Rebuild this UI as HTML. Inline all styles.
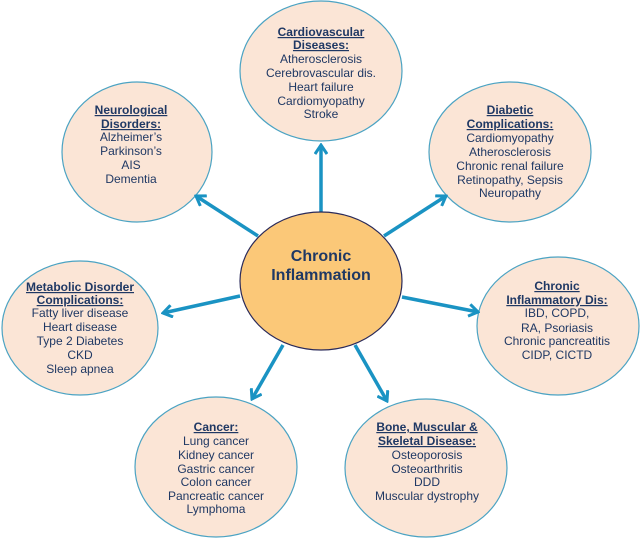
<!DOCTYPE html>
<html><head><meta charset="utf-8"><style>
html,body{margin:0;padding:0;background:#fff;}
svg{display:block;}
text{font-family:"Liberation Sans",Arial,sans-serif;font-size:12px;fill:#1f3864;text-anchor:middle;}
.t{text-decoration:underline;font-weight:bold;}
</style></head><body>
<svg width="644" height="543" viewBox="0 0 644 543" xmlns="http://www.w3.org/2000/svg">
<defs>
<marker id="a" markerWidth="12" markerHeight="14" refX="10" refY="7" orient="auto" markerUnits="userSpaceOnUse">
<polyline points="1,1 10,7 1,13" fill="none" stroke="#1a93c3" stroke-width="3"/>
</marker>
</defs>
<g fill="#fbe5d6" stroke="#4ba3c3" stroke-width="1.2">
<ellipse cx="321" cy="71" rx="81" ry="70"/>
<ellipse cx="137" cy="152" rx="75" ry="70"/>
<ellipse cx="510" cy="152" rx="81" ry="70"/>
<ellipse cx="80" cy="328" rx="78" ry="67"/>
<ellipse cx="558" cy="326" rx="81" ry="69"/>
<ellipse cx="216" cy="467" rx="81" ry="70"/>
<ellipse cx="426" cy="468" rx="81" ry="69"/>
</g>
<g stroke="#1a93c3" stroke-width="3.5" fill="none" marker-end="url(#a)">
<line x1="321" y1="212" x2="321" y2="145"/>
<line x1="258" y1="236" x2="196" y2="196"/>
<line x1="384" y1="236" x2="446" y2="196"/>
<line x1="240" y1="296" x2="163" y2="313"/>
<line x1="402" y1="297" x2="478" y2="312"/>
<line x1="283" y1="345" x2="252" y2="399"/>
<line x1="355" y1="345" x2="387" y2="401"/>
</g>
<ellipse cx="321" cy="281" rx="81" ry="69" fill="#fbc878" stroke="#2a2a5a" stroke-width="1.2"/>
<text x="321" y="261" style="font-size:16px;font-weight:bold">Chronic</text>
<text x="321" y="280" style="font-size:16px;font-weight:bold">Inflammation</text>

<text class="t" x="321" y="36">Cardiovascular</text>
<text class="t" x="321" y="49">Diseases:</text>
<text x="321" y="63">Atherosclerosis</text>
<text x="321" y="77">Cerebrovascular dis.</text>
<text x="321" y="91">Heart failure</text>
<text x="321" y="105">Cardiomyopathy</text>
<text x="321" y="118">Stroke</text>

<text class="t" x="131" y="114">Neurological</text>
<text class="t" x="131" y="128">Disorders:</text>
<text x="131" y="141">Alzheimer’s</text>
<text x="131" y="155">Parkinson’s</text>
<text x="131" y="169">AIS</text>
<text x="131" y="183">Dementia</text>

<text class="t" x="510" y="114">Diabetic</text>
<text class="t" x="510" y="128">Complications:</text>
<text x="510" y="142">Cardiomyopathy</text>
<text x="510" y="156">Atherosclerosis</text>
<text x="510" y="170">Chronic renal failure</text>
<text x="510" y="184">Retinopathy, Sepsis</text>
<text x="510" y="197">Neuropathy</text>

<text class="t" x="557" y="290">Chronic</text>
<text class="t" x="557" y="304">Inflammatory Dis:</text>
<text x="557" y="317">IBD, COPD,</text>
<text x="557" y="332">RA, Psoriasis</text>
<text x="557" y="345">Chronic pancreatitis</text>
<text x="557" y="359">CIDP, CICTD</text>

<text class="t" x="80" y="291">Metabolic Disorder</text>
<text class="t" x="80" y="304">Complications:</text>
<text x="80" y="317">Fatty liver disease</text>
<text x="80" y="331">Heart disease</text>
<text x="80" y="345">Type 2 Diabetes</text>
<text x="80" y="359">CKD</text>
<text x="80" y="373">Sleep apnea</text>

<text class="t" x="216" y="431">Cancer:</text>
<text x="216" y="445">Lung cancer</text>
<text x="216" y="459">Kidney cancer</text>
<text x="216" y="473">Gastric cancer</text>
<text x="216" y="486">Colon cancer</text>
<text x="216" y="500">Pancreatic cancer</text>
<text x="216" y="513">Lymphoma</text>

<text class="t" x="427" y="431">Bone, Muscular &amp;</text>
<text class="t" x="427" y="445">Skeletal Disease:</text>
<text x="427" y="459">Osteoporosis</text>
<text x="427" y="473">Osteoarthritis</text>
<text x="427" y="486">DDD</text>
<text x="427" y="500">Muscular dystrophy</text>
</svg>
</body></html>
